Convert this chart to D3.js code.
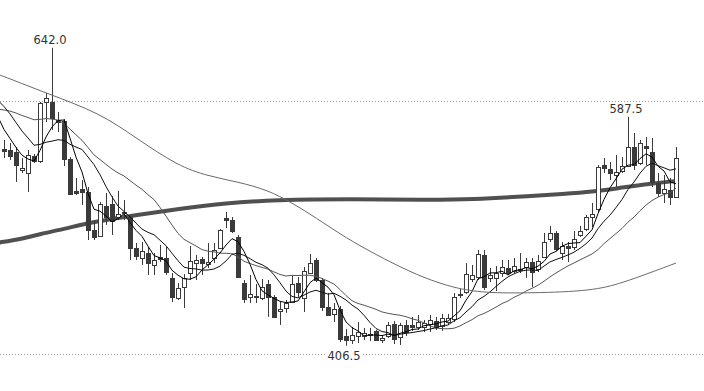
<!DOCTYPE html>
<html>
<head>
<meta charset="utf-8">
<script src="https://cdn.jsdelivr.net/npm/d3@7/dist/d3.min.js"></script>
<style>
html, body { margin: 0; padding: 0; background: #fff; }
svg { display: block; }
</style>
</head>
<body>
<svg id="chart" width="704" height="391"></svg>
<script>
// DAILY CANDLES
const opens = [562.1,561.3,559.7,545.5,543.1,556.5,552.6,599.2,599.2,585.0,
  584.2,554.2,528.9,530.4,528.1,498.0,493.3,517.0,518.6,508.3,
  512.3,508.3,483.8,475.9,479.8,470.4,476.7,475.9,460.1,444.3,
  453.0,464.0,471.9,475.1,471.1,475.9,483.8,507.5,505.9,492.5,
  456.1,445.1,445.9,444.3,455.3,445.1,434.0,436.4,441.1,456.1,
  444.3,464.0,474.3,458.5,437.2,431.7,435.6,414.2,411.1,414.2,
  414.2,415.8,418.2,411.1,414.2,423.8,413.4,423.0,423.0,421.4,
  421.4,423.8,426.1,422.2,425.3,427.7,446.6,449.0,459.3,460.9,
  478.3,460.1,460.1,464.0,468.0,465.6,467.2,468.8,472.7,467.2,
  476.7,490.9,495.7,479.8,485.4,484.6,494.1,498.8,508.3,514.6,
  549.4,546.2,541.5,544.7,548.6,563.6,551.0,564.4,559.7,535.2,
  527.3,529.6,524.1];
const highs = [569.2,566.8,563.6,554.9,561.3,558.1,599.2,606.3,642.0,591.3,
  585.8,555.7,539.1,537.5,532.0,505.9,520.2,527.3,524.9,528.9,
  521.7,509.9,487.7,488.5,484.6,479.8,486.2,484.6,464.0,456.1,
  463.2,485.4,478.3,476.7,487.7,487.7,498.8,512.3,508.3,494.1,
  458.5,462.5,455.3,459.3,458.5,446.6,441.1,442.7,461.7,460.9,
  468.8,479.1,475.9,460.1,448.2,440.3,437.9,419.8,421.4,425.3,
  420.6,420.6,419.0,415.0,425.3,426.1,424.6,426.9,429.3,430.9,
  426.9,430.9,429.3,431.7,431.7,448.2,451.4,471.9,470.4,482.2,
  482.2,468.0,469.6,474.3,474.3,475.9,479.8,475.9,475.9,478.3,
  495.7,501.2,497.2,488.5,488.5,497.2,501.2,509.9,519.4,549.4,
  554.9,551.8,557.3,555.7,587.5,574.7,569.2,571.5,570.8,543.1,
  541.5,539.1,563.6];
const lows = [554.9,553.4,536.0,543.1,528.1,551.0,551.0,583.4,577.1,575.5,
  548.6,525.7,525.7,517.8,490.1,490.1,492.5,502.0,494.1,505.9,
  505.9,474.3,474.3,470.4,462.5,462.5,472.7,462.5,441.1,442.7,
  436.4,458.5,458.5,462.5,468.0,471.9,483.0,499.6,495.7,460.1,
  440.3,440.3,440.3,442.7,429.3,428.5,423.0,432.5,440.3,445.1,
  433.2,463.2,456.9,434.0,430.1,425.3,409.5,406.5,407.9,408.7,
  411.1,410.3,410.3,408.7,412.7,407.9,407.1,414.2,418.2,419.0,
  417.4,417.4,419.0,418.2,423.0,425.3,444.3,447.4,456.9,458.5,
  450.6,456.9,449.8,460.9,462.5,464.0,464.0,460.1,453.0,464.8,
  475.9,488.5,481.4,474.3,472.7,482.2,492.5,497.2,500.4,512.3,
  543.1,537.5,532.0,543.1,547.8,545.5,549.4,549.4,532.0,524.1,
  519.4,517.8,523.3];
const closes = [560.5,556.5,549.4,547.0,557.3,552.6,598.4,602.4,586.6,583.4,
  554.2,526.5,527.3,528.1,498.0,492.5,518.6,508.3,505.1,510.7,
  511.5,483.8,477.5,481.4,471.9,474.3,475.1,464.8,445.1,452.2,
  460.1,473.5,474.3,471.9,472.7,482.2,498.0,505.9,497.2,460.9,
  443.5,447.4,445.1,453.0,445.1,429.3,435.6,440.3,455.3,449.0,
  465.6,471.9,458.5,437.2,430.9,435.6,411.9,411.1,415.0,417.4,
  416.6,415.0,411.1,412.7,423.0,411.9,423.0,417.4,421.4,425.3,
  424.6,426.9,421.4,428.5,428.5,445.1,447.4,463.2,462.5,479.1,
  453.0,462.5,464.0,468.8,464.0,469.6,466.4,472.7,464.8,473.5,
  488.5,495.7,483.0,485.4,483.8,490.9,497.2,508.3,510.7,547.8,
  547.0,543.1,543.9,548.6,563.6,549.4,566.8,562.8,536.0,527.3,
  530.4,524.1,554.9];

// CLOSES BEFORE THE FIRST VISIBLE CANDLE (warm-up for the averages)
const priorCloses = [572,575,580,585,590,588,592,590,595,599,
  608,615,618,614,612,610,592,585,578,572];

// SLOW AVERAGES, READ AS [candle index, value]
const ma60 = [[-1,621.0],[0,619.4],[7,606.3],[16,590.5],[22,570.8],[29,548.6],[34,540.7],
  [39,536.0],[44,529.6],[48,519.4],[51,510.7],[55,498.0],[59,486.2],[65,471.1],
  [70,460.1],[75,452.2],[80,448.2],[88,448.2],[98,449.8],[103,456.1],[108,464.8],[112,471.9]];
const ma250 = [[-1,488.0],[3,490.9],[6,494.9],[10,498.8],[14,503.6],[18,506.7],
  [22,509.9],[29,514.6],[37,519.4],[45,521.7],[58,522.6],[70,521.8],[78,522.2],
  [88,524.9],[93,526.5],[98,528.1],[103,531.6],[108,534.8],[112,536.8]];

// GRID LEVELS AND MARKED EXTREMES
const gridLevels = [400, 600];
const highMarks = [8, 104];
const lowMarks = [57];

const W = 704, H = 391;
const svg = d3.select('#chart');

const x = d3.scaleLinear().domain([0, closes.length - 1]).range([4, 676]);
const y = d3.scaleLinear().domain([400, 600]).range([354, 101]);

//MOVING AVERAGE FROM CLOSES (starts one candle left of the frame)
const allCloses = priorCloses.concat(closes);
function movingAvg(n){
    return d3.range(-1, closes.length).map(i => {
        const end = i + priorCloses.length;
        return [i, d3.mean(allCloses.slice(end - n + 1, end + 1))];
    });
}

//GRID
svg.selectAll('.grid').data(gridLevels)
    .enter().append('line')
    .attr('x1', 0).attr('x2', W)
    .attr('y1', d => Math.round(y(d)) + 0.5)
    .attr('y2', d => Math.round(y(d)) + 0.5)
    .attr('stroke', '#999')
    .attr('stroke-dasharray', '1,2');

const line = d3.line().x(d => x(d[0])).y(d => y(d[1]));
const smooth = d3.line().x(d => x(d[0])).y(d => y(d[1])).curve(d3.curveBasis);

//LONG AVERAGE
svg.append('path').attr('d', smooth(ma250))
    .attr('fill', 'none').attr('stroke', '#505050').attr('stroke-width', 4);

//CANDLES
const idx = d3.range(closes.length);
const color = '#3a3a3a';
const candle = svg.selectAll('.candle').data(idx)
    .enter().append('g').attr('class', 'candle');
candle.append('line')
    .attr('x1', i => Math.round(x(i)) + 0.5)
    .attr('x2', i => Math.round(x(i)) + 0.5)
    .attr('y1', i => y(highs[i]))
    .attr('y2', i => y(lows[i]))
    .attr('stroke', color);
candle.append('rect')
    .attr('x', i => Math.round(x(i)) - 1.5)
    .attr('width', 4)
    .attr('y', i => Math.round(y(Math.max(opens[i], closes[i]))) + 0.5)
    .attr('height', i => Math.max(1, Math.round(Math.abs(y(opens[i]) - y(closes[i])))))
    .attr('fill', i => closes[i] >= opens[i] ? '#fff' : color)
    .attr('stroke', color);

//SHORT AVERAGES
[[movingAvg(20), '#555'], [movingAvg(10), '#111'], [movingAvg(5), '#000']].forEach(([pts, c]) => {
    svg.append('path').attr('d', line(pts))
        .attr('fill', 'none').attr('stroke', c).attr('stroke-width', 1);
});
svg.append('path').attr('d', smooth(ma60))
    .attr('fill', 'none').attr('stroke', '#6a6a6a').attr('stroke-width', 1);

//EXTREME LABELS
const font = '"DejaVu Sans", sans-serif';
svg.selectAll('.hi').data(highMarks)
    .enter().append('text')
    .attr('x', i => x(i) - 2)
    .attr('y', i => y(highs[i]) - 4)
    .attr('text-anchor', 'middle')
    .attr('font-family', font).attr('font-size', 11.5).attr('fill', '#333')
    .text(i => highs[i].toFixed(1));
const lo = svg.selectAll('.lo').data(lowMarks).enter().append('g');
lo.append('rect')
    .attr('x', i => x(i) - 19).attr('y', i => y(lows[i]) + 3)
    .attr('width', 34).attr('height', 13).attr('fill', '#fff');
lo.append('text')
    .attr('x', i => x(i) - 2)
    .attr('y', i => y(lows[i]) + 14)
    .attr('text-anchor', 'middle')
    .attr('font-family', font).attr('font-size', 11.5).attr('fill', '#333')
    .text(i => lows[i].toFixed(1));
</script>
</body>
</html>
